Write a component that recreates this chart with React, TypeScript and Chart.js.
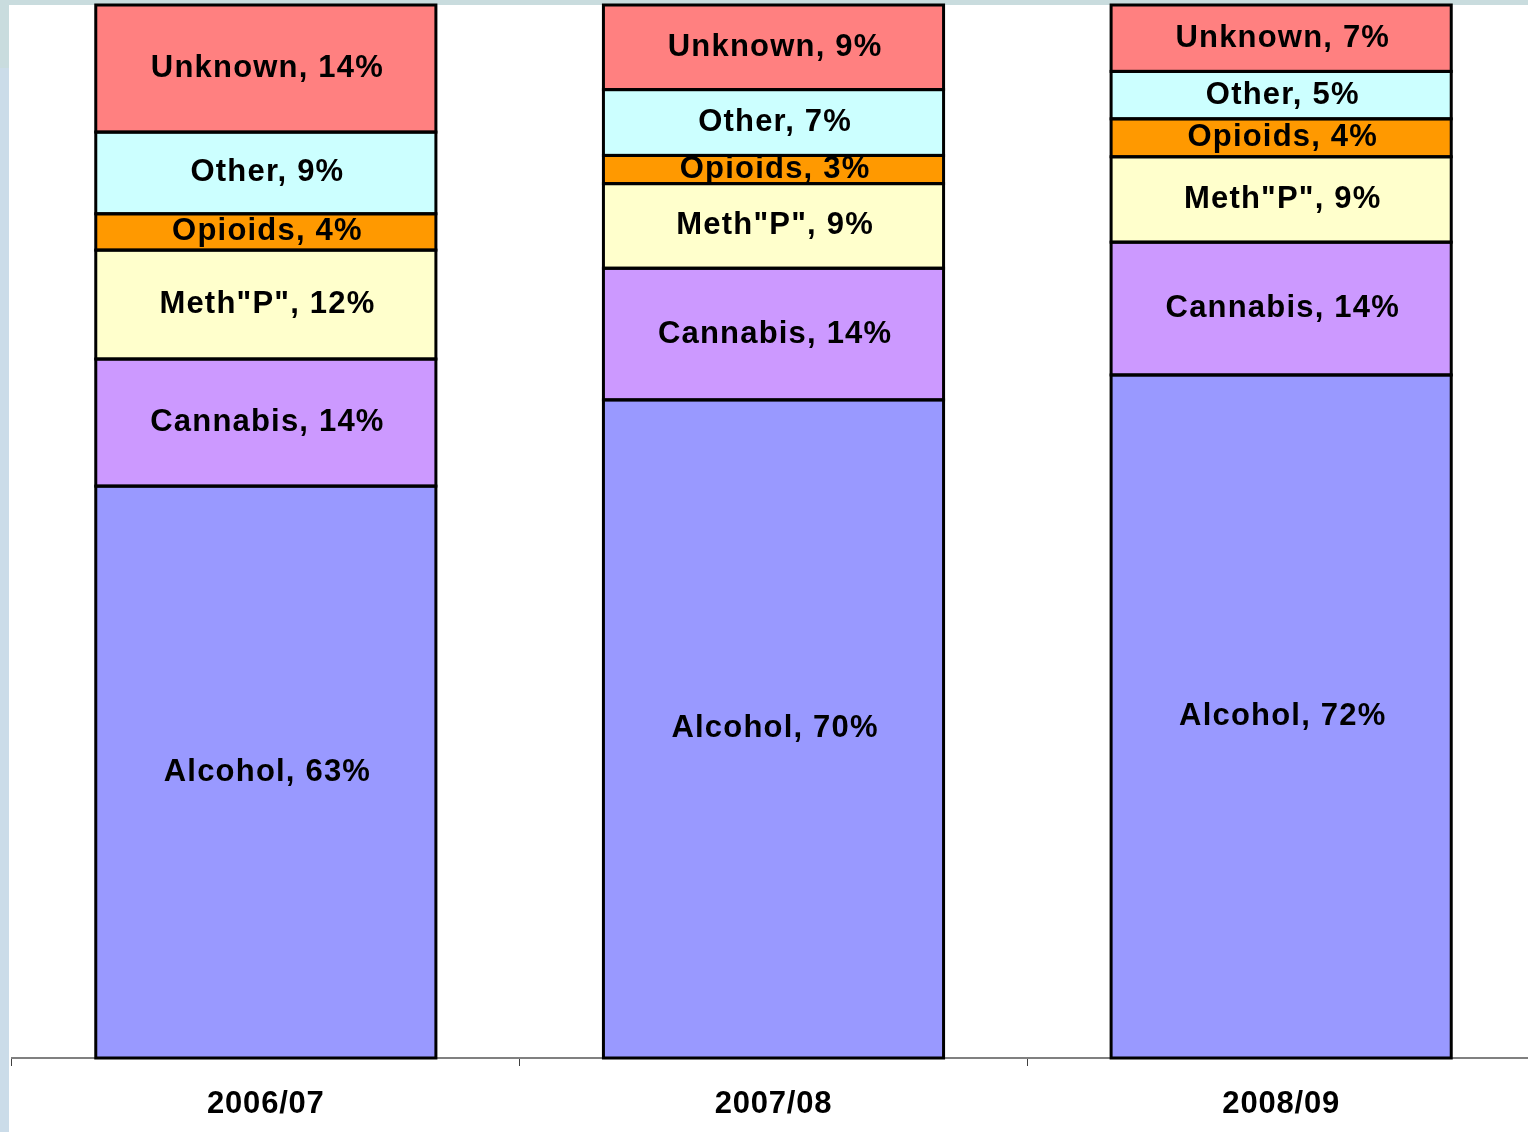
import React, { useEffect, useRef } from "react";
import { Chart, registerables } from "chart.js";

Chart.register(...registerables);

const categories = ["2006/07", "2007/08", "2008/09"];
const seriesNames = ["Alcohol", "Cannabis", 'Meth"P"', "Opioids", "Other", "Unknown"];
const alcohol = [63, 70, 72];
const cannabis = [14, 14, 14];
const methP = [12, 9, 9];
const opioids = [4, 3, 4];
const other = [9, 7, 5];
const unknown = [14, 9, 7];
const seriesColors = ["#9999FF", "#CC99FF", "#FFFFCC", "#FF9900", "#CCFFFF", "#FF8080"];

const seriesValues = [alcohol, cannabis, methP, opioids, other, unknown];
const columnTotals = categories.map((_, j) =>
  seriesValues.reduce((sum, s) => sum + s[j], 0)
);

const FONT = "'Liberation Sans', Arial, sans-serif";
const LABEL_SPACING = 1.2;
const AXIS_SPACING = 0.8;

const segmentPlugin = {
  id: "segmentLabels",
  beforeDraw(chart: any) {
    chart.ctx.letterSpacing = `${AXIS_SPACING}px`;
  },
  afterDatasetsDraw(chart: any) {
    const ctx = chart.ctx;
    ctx.save();
    chart.data.datasets.forEach((ds: any, i: number) => {
      const meta = chart.getDatasetMeta(i);
      meta.data.forEach((el: any) => {
        const { x, y, base, width } = el.getProps(["x", "y", "base", "width"], true);
        ctx.strokeStyle = "#000";
        ctx.lineWidth = 3;
        ctx.strokeRect(x - width / 2, y, width, base - y);
      });
    });
    ctx.font = `bold 31px ${FONT}`;
    ctx.letterSpacing = `${LABEL_SPACING}px`;
    ctx.fillStyle = "#000";
    ctx.textAlign = "center";
    ctx.textBaseline = "middle";
    chart.data.datasets.forEach((ds: any, i: number) => {
      const meta = chart.getDatasetMeta(i);
      meta.data.forEach((el: any, j: number) => {
        const { x, y, base } = el.getProps(["x", "y", "base"], true);
        ctx.fillText(`${ds.label}, ${ds.rawValues[j]}%`, x + 1 + LABEL_SPACING / 2, (y + base) / 2);
      });
    });
    ctx.restore();
  },
};

export default function App() {
  const canvasRef = useRef<HTMLCanvasElement | null>(null);

  useEffect(() => {
    const canvas = canvasRef.current;
    if (!canvas) return;
    const chart = new Chart(canvas, {
      type: "bar",
      data: {
        labels: categories,
        datasets: seriesNames.map((name, i) => ({
          label: name,
          rawValues: seriesValues[i],
          data: seriesValues[i].map((v, j) => (v / columnTotals[j]) * 100),
          backgroundColor: seriesColors[i],
          borderWidth: 0,
          barPercentage: 0.67,
          categoryPercentage: 1,
        })) as any,
      },
      options: {
        responsive: false,
        animation: false,
        devicePixelRatio: 1,
        layout: { padding: { left: 12, top: 5, right: 0, bottom: 0 } },
        plugins: {
          legend: { display: false },
          tooltip: { enabled: false },
        },
        scales: {
          x: {
            stacked: true,
            grid: {
              display: true,
              offset: true,
              drawOnChartArea: false,
              drawTicks: true,
              tickLength: 8,
              color: "#404040",
              lineWidth: 1,
            },
            border: { display: true, color: "#808080", width: 2 },
            ticks: {
              color: "#000",
              font: { family: FONT, size: 31, weight: "bold" },
              padding: 20,
              maxRotation: 0,
              autoSkip: false,
            },
            afterFit: (s: any) => {
              s.height = 74;
            },
          },
          y: { stacked: true, display: false, min: 0, max: 100 },
        },
      },
      plugins: [segmentPlugin],
    });
    return () => chart.destroy();
  }, []);

  return (
    <div
      style={{
        position: "absolute",
        left: 0,
        top: 0,
        width: 1528,
        height: 1132,
        overflow: "hidden",
        background: "#ffffff",
      }}
    >
      <div style={{ position: "absolute", left: 0, top: 0, width: 1528, height: 5, background: "#c9dcde" }} />
      <div style={{ position: "absolute", left: 0, top: 0, width: 9, height: 68, background: "#c9dcde" }} />
      <div style={{ position: "absolute", left: 0, top: 68, width: 9, height: 1064, background: "#cbdce9" }} />
      <canvas
        ref={canvasRef}
        width={1535}
        height={1132}
        style={{ position: "absolute", left: 0, top: 0, width: 1535, height: 1132 }}
      />
    </div>
  );
}
